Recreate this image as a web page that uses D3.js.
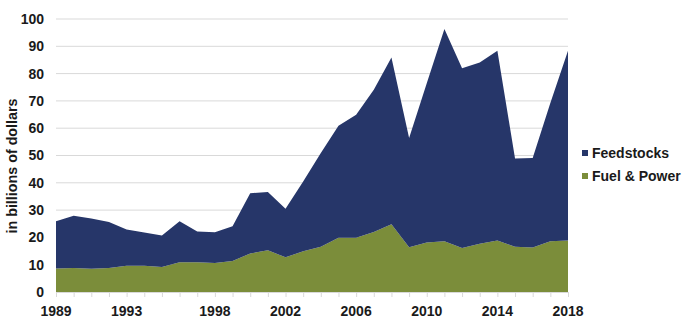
<!DOCTYPE html>
<html>
<head>
<meta charset="utf-8">
<script src="https://cdn.jsdelivr.net/npm/d3@7"></script>
<style>
  html, body { margin: 0; padding: 0; background: #fff; }
  svg { display: block; font-family: "Liberation Sans", Arial, sans-serif; }
</style>
</head>
<body>
<svg id="chart" width="685" height="325"></svg>
<script>
// Annual spending, billions of dollars
const years = d3.range(1989, 2019);
const fuelPower = [8.6, 8.8, 8.5, 8.8, 9.6, 9.6, 9.2, 10.9, 10.9, 10.6, 11.4, 14.1, 15.3, 12.7, 14.9,
                   16.6, 19.9, 19.9, 22.0, 24.8, 16.4, 18.1, 18.6, 16.1, 17.7, 18.9, 16.6, 16.3, 18.6, 18.9];
const feedstocks = [17.3, 19.1, 18.4, 16.8, 13.3, 12.2, 11.5, 15.0, 11.3, 11.3, 12.7, 22.1, 21.3, 17.8, 25.6,
                    34.3, 41.0, 45.0, 52.1, 61.1, 40.0, 58.4, 77.7, 65.9, 66.4, 69.5, 32.3, 32.8, 50.6, 69.5];
const xTickYears = [1989, 1993, 1998, 2002, 2006, 2010, 2014, 2018];
const yTicks = d3.range(0, 101, 10);
const seriesNames = ["Fuel & Power", "Feedstocks"];
const seriesColors = ["#7b8d3a", "#263669"];

const svg = d3.select("#chart");
const margin = { left: 56, right: 117, top: 19, bottom: 33 };
const W = 685, H = 325;

const x = d3.scaleLinear().domain([1989, 2018]).range([margin.left, W - margin.right]);
const y = d3.scaleLinear().domain([0, 100]).range([H - margin.bottom, margin.top]);

const rows = years.map((yr, i) => ({ year: yr, "Fuel & Power": fuelPower[i], "Feedstocks": feedstocks[i] }));
const stack = d3.stack().keys(seriesNames)(rows);

// gridlines
svg.append("g")
  .selectAll("line")
  .data(yTicks.filter(d => d > 0))
  .join("line")
  .attr("x1", x(1989)).attr("x2", x(2018))
  .attr("y1", d => y(d)).attr("y2", d => y(d))
  .attr("stroke", "#d9d9d9").attr("stroke-width", 1);

// stacked areas
const area = d3.area()
  .x(d => x(d.data.year))
  .y0(d => y(d[0]))
  .y1(d => y(d[1]));

svg.append("g")
  .selectAll("path")
  .data(stack)
  .join("path")
  .attr("d", area)
  .attr("fill", (d, i) => seriesColors[i]);

// x axis: tick at every year, labels on selected years
const xAxis = svg.append("g")
  .attr("transform", `translate(0,${y(0)})`)
  .call(d3.axisBottom(x).tickValues(years).tickSize(5).tickFormat(""));
xAxis.select(".domain").attr("stroke", "#d9d9d9");
xAxis.selectAll(".tick line").attr("stroke", "#d9d9d9");

svg.append("g")
  .selectAll("text")
  .data(xTickYears)
  .join("text")
  .attr("x", d => x(d))
  .attr("y", y(0) + 24)
  .attr("text-anchor", "middle")
  .attr("font-size", 14)
  .attr("font-weight", "bold")
  .attr("fill", "#1a1a1a")
  .text(d => d);

// y axis labels
const yAxis = svg.append("g")
  .attr("transform", `translate(${x(1989)},0)`)
  .call(d3.axisLeft(y).tickValues(yTicks).tickSize(0).tickPadding(12));
yAxis.select(".domain").remove();
yAxis.selectAll("text")
  .attr("font-size", 14)
  .attr("font-weight", "bold")
  .attr("fill", "#1a1a1a")
  .attr("font-family", "Liberation Sans, Arial, sans-serif");

// y axis title
svg.append("text")
  .attr("transform", `translate(17,166) rotate(-90)`)
  .attr("text-anchor", "middle")
  .attr("font-size", 14.3)
  .attr("font-weight", "bold")
  .attr("fill", "#1a1a1a")
  .text("in billions of dollars");

// legend (Feedstocks listed first)
const legendItems = [
  { name: "Feedstocks", color: seriesColors[1] },
  { name: "Fuel & Power", color: seriesColors[0] }
];
const legend = svg.append("g").attr("transform", "translate(582,153)");
legendItems.forEach((item, i) => {
  const g = legend.append("g").attr("transform", `translate(0,${i * 23})`);
  g.append("rect").attr("x", 0).attr("y", -3).attr("width", 6).attr("height", 6).attr("fill", item.color);
  g.append("text")
    .attr("x", 10).attr("y", 5)
    .attr("font-size", 14)
    .attr("font-weight", "bold")
    .attr("fill", "#1a1a1a")
    .text(item.name);
});
</script>
</body>
</html>
